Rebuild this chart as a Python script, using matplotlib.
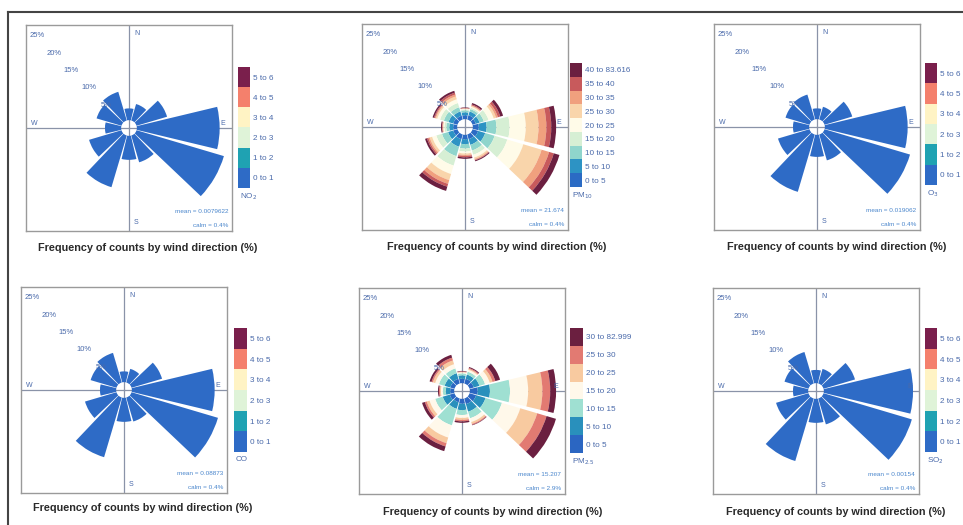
import numpy as np
import matplotlib
matplotlib.use("Agg")
import matplotlib.pyplot as plt
from matplotlib.colors import ListedColormap, BoundaryNorm
from matplotlib.cm import ScalarMappable

plt.rcParams["font.family"] = ["Liberation Sans", "DejaVu Sans"]

W, H = 963, 525
DIRS = [0, 30, 60, 90, 120, 150, 180, 210, 240, 270, 300, 330]
RINGS = [5, 10, 15, 20, 25, 30]
TITLE = "Frequency of counts by wind direction (%)"

# frequencia (%) por sector, un solo bin visible ("0 to 1")
no2_freq = [2.4, 3.5, 6.5, 16.9, 18.6, 5.7, 4.9, 11.0, 6.9, 3.3, 5.3, 6.1]
o3_freq  = [2.2, 2.7, 5.9, 16.9, 18.2, 5.5, 4.5, 12.2, 6.7, 3.3, 5.1, 5.3]
co_freq  = [2.2, 2.9, 6.5, 16.9, 18.4, 5.1, 4.9, 12.7, 6.7, 3.3, 5.5, 6.3]
so2_freq = [2.7, 3.1, 6.7, 18.2, 18.8, 5.5, 4.9, 13.3, 6.9, 3.1, 5.1, 6.7]

# PM10: 9 bins por sector
pm10_bins = [
    [0.8, 0.6, 0.4, 0.2, 0.1, 0.1, 0.0, 0.1, 0.1],
    [0.9, 0.8, 0.5, 0.3, 0.2, 0.2, 0.1, 0.2, 0.3],
    [0.7, 0.8, 0.9, 1.0, 1.1, 0.5, 0.4, 0.5, 0.6],
    [1.2, 1.6, 2.0, 2.7, 3.3, 2.6, 1.6, 1.0, 1.0],
    [1.2, 1.5, 2.0, 2.7, 3.4, 3.9, 1.6, 1.0, 1.2],
    [1.0, 1.2, 1.2, 0.9, 0.6, 0.3, 0.2, 0.1, 0.2],
    [0.9, 1.0, 0.9, 0.6, 0.4, 0.3, 0.2, 0.3, 0.3],
    [1.0, 1.6, 2.0, 2.0, 1.8, 1.3, 0.8, 0.6, 0.9],
    [0.9, 1.1, 1.3, 1.2, 0.9, 0.5, 0.3, 0.3, 0.4],
    [0.8, 0.8, 0.6, 0.4, 0.2, 0.1, 0.1, 0.1, 0.2],
    [0.9, 1.0, 1.0, 0.8, 0.6, 0.3, 0.2, 0.2, 0.3],
    [0.8, 0.9, 0.9, 0.9, 0.8, 0.6, 0.4, 0.4, 0.4],
]
# PM2.5: 7 bins por sector
pm25_bins = [
    [0.9, 0.7, 0.4, 0.2, 0.1, 0.1, 0.1],
    [1.0, 0.9, 0.6, 0.4, 0.2, 0.2, 0.2],
    [0.9, 1.2, 1.2, 1.0, 0.6, 0.6, 1.0],
    [1.6, 2.5, 4.1, 3.7, 2.9, 1.6, 1.2],
    [1.4, 2.0, 3.5, 3.9, 3.6, 2.0, 2.0],
    [1.2, 1.6, 1.4, 0.8, 0.4, 0.2, 0.1],
    [1.0, 1.3, 1.0, 0.6, 0.4, 0.3, 0.3],
    [0.8, 1.4, 3.5, 2.6, 1.2, 0.7, 1.0],
    [1.0, 1.5, 1.6, 1.2, 0.6, 0.4, 0.6],
    [0.8, 0.9, 0.6, 0.4, 0.2, 0.2, 0.2],
    [0.9, 1.2, 1.2, 0.8, 0.5, 0.3, 0.4],
    [1.0, 1.2, 1.0, 0.9, 0.8, 0.6, 0.6],
]

gas_labels  = ["0 to 1", "1 to 2", "2 to 3", "3 to 4", "4 to 5", "5 to 6"]
pm10_labels = ["0 to 5", "5 to 10", "10 to 15", "15 to 20", "20 to 25",
               "25 to 30", "30 to 35", "35 to 40", "40 to 83.616"]
pm25_labels = ["0 to 5", "5 to 10", "10 to 15", "15 to 20", "20 to 25",
               "25 to 30", "30 to 82.999"]

gas_cols  = ["#2e6bc6", "#1fa2b2", "#dff3d8", "#fff3c4", "#f4806c", "#7a1f4c"]
pm10_cols = ["#2b6bc4", "#2d93c4", "#8fd5cc", "#d6efd4", "#fffbe8",
             "#f9d5ab", "#f0a07e", "#c85a5c", "#6b1f40"]
pm25_cols = ["#2b66c2", "#2990bc", "#9fe0d2", "#fff8ea", "#f8caa0",
             "#e27a72", "#6b1f40"]

pollutants = ["NO$_2$", "PM$_{10}$", "O$_3$", "CO", "PM$_{2.5}$", "SO$_2$"]
means = ["mean = 0.0079622", "mean = 21.674", "mean = 0.019062",
         "mean = 0.08873", "mean = 15.207", "mean = 0.00154"]
calms = ["calm = 0.4%", "calm = 0.4%", "calm = 0.4%",
         "calm = 0.4%", "calm = 2.9%", "calm = 0.4%"]

# geometria (pixeles)
FRAMES = [(26, 25), (362, 24), (714, 24), (21, 287), (359, 288), (713, 288)]
FSIZE = 206
CBARS = [(238, 67, 12, 121), (570, 63, 12, 124), (925, 63, 12, 122),
         (234, 328, 13, 124), (570, 328, 13, 125), (925, 328, 12, 124)]
TITLES = [(148, 248), (497, 247), (837, 247), (143, 508), (493, 512), (836, 512)]

PXU = 4.9                 # px por % de frecuencia
LIM = FSIZE / 2 / PXU
OFF = 1.6                 # hueco central
HALF = 13.5               # semiancho del sector (grados)
TXT = "#4a6aaa"

def rect(x, y, w, h):
    return [x / W, 1 - (y + h) / H, w / W, h / H]

fig = plt.figure(figsize=(W / 100, H / 100), dpi=100)

def rose(i, stacks, cols, labels):
    x0, y0 = FRAMES[i]
    S = np.asarray(stacks, dtype=float)
    if S.ndim == 1:
        S = S[:, None]
    ax_p = fig.add_axes(rect(x0, y0, FSIZE, FSIZE), projection="polar")
    ax_p.set_theta_zero_location("N"); ax_p.set_theta_direction(-1)
    ax_p.set_ylim(0, LIM)
    ax_p.axis("off")
    ax_p.patch.set_alpha(0)
    for th in [0, 90, 180, 270]:
        ax_p.plot([np.deg2rad(th)] * 2, [0, LIM], color="#8a93a8", lw=0.9, zorder=0)
    th = np.deg2rad(DIRS)
    cum = np.cumsum(S, axis=1)
    for j in range(S.shape[1]):
        ax_p.bar(th, S[:, j], width=np.deg2rad(2 * HALF), bottom=OFF + cum[:, j] - S[:, j],
                 color=cols[j], edgecolor="none", align="center", zorder=2)

    ax = fig.add_axes(rect(x0, y0, FSIZE, FSIZE))
    ax.set_xlim(-LIM, LIM); ax.set_ylim(-LIM, LIM)
    ax.patch.set_alpha(0)
    ax.set_xticks([]); ax.set_yticks([])
    for s in ax.spines.values():
        s.set_color("#9a9a9a"); s.set_linewidth(1.0)
    for p in RINGS:
        r = (OFF + p) * 1.0
        ax.text(-r * np.sqrt(0.5), r * np.sqrt(0.5), f"{p}%", fontsize=5.5, color=TXT,
                ha="center", va="center", clip_on=True, clip_box=ax.bbox)
    ax.text(1.0, LIM - 1.7, "N", fontsize=5, color=TXT, ha="left", va="center")
    ax.text(LIM - 1.5, 1.0, "E", fontsize=5, color=TXT, ha="right", va="center")
    ax.text(-LIM + 1.0, 1.0, "W", fontsize=5, color=TXT, ha="left", va="center")
    ax.text(1.0, -LIM + 1.7, "S", fontsize=5, color=TXT, ha="left", va="center")
    ax.text(LIM - 0.8, -LIM + 3.9, means[i], fontsize=4.6, color="#4a86cc", ha="right", va="center")
    ax.text(LIM - 0.8, -LIM + 1.1, calms[i], fontsize=4.6, color="#4a86cc", ha="right", va="center")

    cx, cy, cw, ch = CBARS[i]
    cax = fig.add_axes(rect(cx, cy, cw, ch))
    n = len(labels)
    sm = ScalarMappable(norm=BoundaryNorm(np.arange(n + 1), n), cmap=ListedColormap(cols))
    cb = fig.colorbar(sm, cax=cax, ticks=np.arange(n) + 0.5)
    cb.set_ticklabels(labels)
    cb.outline.set_visible(False)
    cax.minorticks_off()
    cax.tick_params(which="both", length=0, labelsize=5.9, labelcolor=TXT, pad=2.5)
    cax.text(0.15, -0.03, pollutants[i], transform=cax.transAxes, fontsize=5.9,
             color=TXT, ha="left", va="top")

    tx, ty = TITLES[i]
    fig.text(tx / W, 1 - ty / H, TITLE, fontsize=7.8, fontweight="bold",
             color="#2a2a2a", ha="center", va="center")

rose(0, no2_freq, gas_cols, gas_labels)
rose(1, pm10_bins, pm10_cols, pm10_labels)
rose(2, o3_freq, gas_cols, gas_labels)
rose(3, co_freq, gas_cols, gas_labels)
rose(4, pm25_bins, pm25_cols, pm25_labels)
rose(5, so2_freq, gas_cols, gas_labels)

# marco exterior del escaneo
fig.add_artist(plt.Line2D([8 / W, 1], [1 - 12 / H] * 2, color="#444444", lw=1.5))
fig.add_artist(plt.Line2D([8 / W] * 2, [0, 1 - 12 / H], color="#444444", lw=1.5))

fig.savefig("out.png", dpi=100)
